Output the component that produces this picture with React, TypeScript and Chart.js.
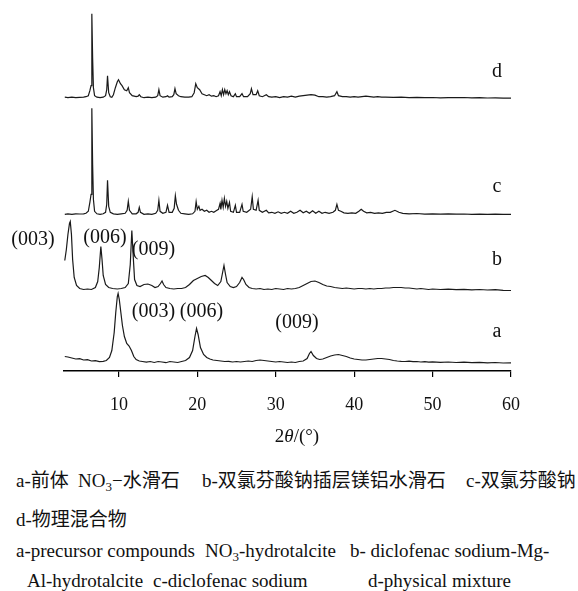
import React, { useEffect, useRef } from "react";
import { Chart, registerables } from "chart.js";

Chart.register(...registerables);

// ---- data -------------------------------------------------------------
const xTicks = [10, 20, 30, 40, 50, 60];
const traceNames = ["a", "b", "c", "d"];
const traceOffsets = [8.5, 81.5, 156.7, 273.3];

// [2θ (°), relative intensity]
const traceA: [number, number][] = [
  [3.1, 6], [3.5, 5.5], [4, 4.5], [4.5, 3.5], [5, 3.8], [5.5, 2.5], [6, 2.8], [6.5, 1.5], [7, 1.8], [7.5, 0.8],
  [8, 1.2], [8.4, 2], [8.8, 5], [9.1, 12], [9.4, 30], [9.6, 50], [9.8, 66], [9.9, 69], [10.05, 63], [10.25, 50],
  [10.45, 37], [10.7, 26], [11.0, 19], [11.3, 16.5], [11.6, 12], [11.9, 6], [12.2, 3], [12.6, 1.5], [13, 1], [13.5, 0.3],
  [14, 1], [14.5, 0], [15, 1], [15.5, 0.5], [16, -0.2], [16.5, 1], [17, 0.5], [17.5, 0], [18, 1], [18.5, 2],
  [19, 5], [19.4, 12], [19.7, 26], [19.9, 34], [20.1, 28], [20.4, 15], [20.8, 8], [21.2, 5], [21.6, 3.5], [22, 2.5],
  [22.5, 2], [23, 1.5], [23.5, 1], [24, 1.2], [24.5, 0.5], [25, 1], [25.5, 0.5], [26, 1], [26.5, 1.5], [27, 1],
  [27.5, 2], [28, 2.5], [28.5, 2], [29, 1.5], [29.5, 1], [30, 0.5], [30.5, 1], [31, 0.5], [31.5, 0], [32, 0.5],
  [32.5, 0], [33, 1], [33.5, 1.5], [34, 4], [34.3, 9], [34.5, 11], [34.8, 7], [35.2, 4], [35.6, 3], [36, 3.5],
  [36.5, 5], [37, 6.5], [37.5, 7.5], [38, 8], [38.5, 7], [39, 6], [39.5, 4.5], [40, 3.5], [40.5, 3], [41, 2.5],
  [41.5, 2.5], [42, 3], [42.5, 3.5], [43, 4], [43.5, 4], [44, 3.5], [44.5, 3], [45, 2], [45.5, 1.5], [46, 1.2],
  [46.5, 1], [47, 1.3], [47.5, 0.8], [48, 1], [48.5, 0.5], [49, 0.8], [49.5, 0.3], [50, 0.6], [51, 0.2], [52, 0.5],
  [53, 0], [54, 0.3], [55, -0.2], [56, 0.2], [57, -0.3], [58, 0], [59, -0.5], [60, -0.3],
];

const traceB: [number, number][] = [
  [3.1, 29], [3.3, 40], [3.5, 55], [3.7, 66], [3.8, 68], [3.95, 55], [4.1, 30], [4.3, 12], [4.6, 4], [5, 1],
  [5.5, 0], [6, 0.5], [6.5, 0], [7, 2], [7.3, 8], [7.5, 22], [7.7, 43], [7.85, 30], [8, 14], [8.3, 5],
  [8.7, 2], [9.2, 1], [9.8, 0.5], [10.3, 1], [10.8, 2], [11.2, 6], [11.45, 25], [11.65, 59], [11.85, 30], [12, 10],
  [12.3, 4], [12.7, 3], [13.2, 5], [13.7, 5.5], [14.2, 4], [14.6, 2], [15, 3], [15.3, 6], [15.5, 8.5], [15.7, 5],
  [16, 2], [16.5, 1], [17, 0.5], [17.5, 1], [18, 1], [18.5, 2], [19, 5], [19.5, 9], [20, 11], [20.5, 13],
  [21, 14], [21.4, 12], [21.8, 9], [22.2, 6], [22.6, 4], [23, 8], [23.2, 16], [23.4, 24], [23.6, 15], [23.8, 7],
  [24.2, 3], [24.6, 2], [25, 3], [25.4, 7], [25.7, 12], [25.9, 10], [26.2, 5], [26.6, 2], [27, 1], [27.5, 0.5],
  [28, 1], [28.5, 0], [29, 0.5], [29.5, 0], [30, 1], [30.5, 0.5], [31, 0], [31.5, 1], [32, 0.5], [32.5, 1],
  [33, 2], [33.5, 4], [34, 6], [34.5, 8], [35, 8.5], [35.5, 7], [36, 5], [36.5, 3.5], [37, 3], [37.5, 2],
  [38, 1.5], [38.5, 1], [39, 1.5], [39.5, 1], [40, 0.5], [40.5, 1], [41, 1], [41.5, 0.5], [42, 1], [42.5, 0.5],
  [43, 1], [43.5, 1], [44, 1.5], [44.5, 1.5], [45, 2], [45.5, 2], [46, 2], [46.5, 1.5], [47, 1.5], [47.5, 1],
  [48, 0.5], [48.5, 1], [49, 0.5], [49.5, 0], [50, 0.5], [51, 0], [52, 0.3], [53, -0.2], [54, 0.2], [55, -0.3],
  [56, 0], [57, -0.5], [58, -0.2], [59, -0.8], [60, -1],
];

const traceC: [number, number][] = [
  [3.1, 0], [3.5, 0.5], [4, 0], [4.5, 0.5], [5, 0.3], [5.5, 0.5], [5.8, 1], [6.1, 3], [6.3, 12], [6.45, 20],
  [6.55, 106], [6.65, 50], [6.75, 15], [6.9, 3], [7.2, 0.5], [7.6, 0], [8, 0.5], [8.3, 2], [8.45, 10], [8.55, 34],
  [8.7, 8], [8.9, 2], [9.3, 0.5], [9.8, 0], [10.3, 0.5], [10.8, 1], [11.05, 4], [11.2, 13], [11.35, 4], [11.7, 0.5],
  [12.2, 0.5], [12.45, 2], [12.6, 7], [12.75, 2], [13.2, 0], [13.7, 0.5], [14.2, 0], [14.7, 1], [14.95, 4], [15.1, 14],
  [15.25, 3], [15.6, 1], [16, 2], [16.2, 9], [16.4, 2], [16.8, 2], [17.05, 6], [17.2, 18.6], [17.35, 10], [17.6, 4],
  [17.9, 1], [18.4, 0.5], [18.9, 0], [19.4, 0.5], [19.7, 3], [19.85, 12.6], [20, 5], [20.2, 8], [20.35, 4], [20.6, 5],
  [20.9, 3], [21.2, 4], [21.5, 2], [21.8, 3], [22.1, 2], [22.4, 3.5], [22.7, 5], [22.9, 11], [23, 5], [23.15, 14],
  [23.3, 7], [23.45, 16], [23.6, 8], [23.75, 13], [23.9, 6], [24.1, 12], [24.25, 3], [24.6, 2], [24.85, 9], [25, 2],
  [25.4, 2], [25.7, 10], [25.85, 3], [26.3, 2], [26.8, 5], [27, 17.6], [27.15, 5], [27.5, 4], [27.75, 14], [27.9, 4],
  [28.3, 2], [28.8, 4], [29.1, 1.5], [29.5, 2], [29.9, 1], [30.3, 2.5], [30.7, 1], [31.1, 2], [31.5, 1], [31.9, 3],
  [32.3, 1], [32.7, 2], [33.1, 4], [33.5, 1.5], [33.9, 3], [34.3, 1], [34.7, 3.5], [35.1, 1], [35.5, 3], [35.9, 1],
  [36.3, 2], [36.8, 1], [37.3, 2], [37.6, 4], [37.8, 10], [38, 4], [38.3, 3], [38.7, 1.5], [39.2, 1], [39.7, 1.5],
  [40.2, 1], [40.6, 3], [40.9, 5], [41.2, 3], [41.6, 1.5], [42.1, 2], [42.6, 1], [43.1, 1.5], [43.6, 1], [44.1, 2],
  [44.6, 2], [45.2, 4], [45.7, 2], [46.2, 1], [47, 0.5], [48, 0.8], [49, 0.2], [50, 0.5], [51, 0.2], [52, 0.4],
  [53, 0.1], [54, 0.3], [55, 0], [56, 0.2], [57, 0], [58, 0.1], [59, 0], [60, 0],
];

const traceD: [number, number][] = [
  [3.1, 0.5], [3.5, 0], [4, 0.5], [4.5, 0], [5, 0.3], [5.5, 0.5], [5.8, 1], [6.1, 2], [6.3, 7], [6.45, 12],
  [6.55, 84], [6.65, 40], [6.75, 10], [6.9, 2], [7.2, 0.5], [7.6, 0], [8, 0.5], [8.3, 2], [8.45, 8], [8.55, 22],
  [8.7, 5], [8.9, 1], [9.1, 0.5], [9.3, 3], [9.55, 10], [9.8, 16], [9.95, 18], [10.2, 14], [10.4, 12], [10.7, 8],
  [11, 7], [11.2, 10], [11.35, 5], [11.7, 2], [12.2, 1], [12.45, 1.5], [12.6, 3], [12.8, 1], [13.2, 0], [13.7, 0.5],
  [14.2, 0], [14.7, 0.5], [14.95, 2], [15.1, 8], [15.25, 2], [15.6, 0.5], [16, 1], [16.2, 2], [16.4, 0.5], [16.8, 1],
  [17, 3], [17.15, 9], [17.3, 4], [17.6, 2], [17.9, 1], [18.4, 0.5], [18.9, 0.5], [19.3, 1], [19.6, 5], [19.8, 14],
  [20, 10], [20.3, 8], [20.6, 4], [20.9, 3], [21.2, 2], [21.5, 3], [21.8, 1.5], [22.1, 2], [22.4, 1], [22.7, 2],
  [22.9, 6], [23.05, 2], [23.2, 8], [23.35, 3], [23.5, 8], [23.65, 4], [23.8, 7], [23.95, 3], [24.1, 6], [24.3, 2],
  [24.6, 1], [24.85, 4], [25, 1], [25.4, 1], [25.7, 4], [25.9, 1], [26.4, 1], [26.75, 4], [26.9, 9], [27.1, 3],
  [27.5, 3], [27.7, 7], [27.9, 2], [28.3, 1], [28.8, 3], [29.1, 1], [29.5, 0.5], [30, 1], [30.5, 0], [31, 1],
  [31.5, 0.5], [32, 1.5], [32.5, 0.5], [33, 1.5], [33.5, 2], [34, 2.5], [34.5, 3], [35, 2.5], [35.5, 1], [36, 1],
  [36.5, 0.5], [37, 1], [37.5, 2], [37.8, 6], [38, 2], [38.5, 1], [39, 1], [39.5, 0.5], [40, 1], [40.5, 0.5],
  [41, 1], [41.5, 1.5], [42, 1], [42.5, 0.5], [43, 1], [43.5, 0.5], [44, 0.5], [45, 0.3], [46, 0.5], [47, 0],
  [48, 0.3], [49, 0], [50, 0.2], [51, -0.1], [52, 0.1], [53, 0], [54, 0.2], [55, -0.2], [56, 0], [57, -0.3],
  [58, -0.1], [59, -0.4], [60, -0.5],
];

const traces = [traceA, traceB, traceC, traceD];

// peak (hkl) annotations: text, 2θ, level (plot units)
const hklTexts = ["(003)", "(006)", "(009)", "(003)", "(006)", "(009)"];
const hklTheta = [-0.95, 8.23, 14.41, 14.41, 20.53, 32.71];
const hklLevel = [126, 127.7, 116, 54.3, 54.3, 42.7];
const nameTheta = 58.2;
const nameLevel = [34.3, 106, 179.3, 293.7];

const SERIF = '"Liberation Serif", "DejaVu Serif", serif';
const CAPTION_FONT = '"Liberation Serif", "DejaVu Serif", "Noto Sans CJK SC", serif';

const textPlugin = {
  id: "xrdText",
  afterDraw(chart: any) {
    const { ctx } = chart;
    const x = chart.scales.x;
    const y = chart.scales.y;
    ctx.save();
    ctx.fillStyle = "#111";
    ctx.font = `20px ${SERIF}`;
    ctx.textAlign = "center";
    ctx.textBaseline = "alphabetic";
    hklTexts.forEach((t, i) => {
      ctx.fillText(t, x.getPixelForValue(hklTheta[i]), y.getPixelForValue(hklLevel[i]));
    });
    traceNames.forEach((n, i) => {
      ctx.fillText(n, x.getPixelForValue(nameTheta), y.getPixelForValue(nameLevel[i]));
    });
    ctx.restore();
  },
};

function XrdChart() {
  const ref = useRef<HTMLCanvasElement | null>(null);
  useEffect(() => {
    if (!ref.current) return;
    const datasets = traces.map((tr, i) => ({
      label: traceNames[i],
      data: tr.map(([t, v]) => ({ x: t, y: v + traceOffsets[i] })),
      borderColor: "#1a1a1a",
      borderWidth: 1.2,
      pointRadius: 0,
      tension: 0,
      fill: false,
    }));
    const chart = new Chart(ref.current, {
      type: "line",
      data: { datasets },
      options: {
        animation: false,
        responsive: false,
        devicePixelRatio: 1,
        layout: { padding: { left: 64, right: 67, top: 5, bottom: 0 } },
        plugins: { legend: { display: false }, tooltip: { enabled: false } },
        scales: {
          x: {
            type: "linear",
            min: 3,
            max: 60,
            afterBuildTicks: (s: any) => {
              s.ticks = xTicks.map((v) => ({ value: v }));
            },
            afterFit: (s: any) => {
              s.height = 79;
            },
            grid: {
              drawOnChartArea: false,
              drawTicks: true,
              tickLength: 6,
              color: "#000",
              lineWidth: 1.2,
            },
            border: { color: "#000", width: 1.4 },
            ticks: {
              color: "#111",
              font: { family: SERIF, size: 18 },
              padding: 17,
              maxRotation: 0,
              autoSkip: false,
            },
          },
          y: { display: false, min: 0, max: 366 },
        },
      } as any,
      plugins: [textPlugin],
    });
    return () => chart.destroy();
  }, []);
  return <canvas ref={ref} width={578} height={450} style={{ position: "absolute", left: 0, top: 0, width: 578, height: 450 }} />;
}

const seg = (left: number, top: number, content: React.ReactNode, key: string) => (
  <div
    key={key}
    style={{
      position: "absolute",
      left,
      top,
      fontFamily: CAPTION_FONT,
      fontSize: 19,
      lineHeight: "19px",
      whiteSpace: "pre",
      color: "#111",
    }}
  >
    {content}
  </div>
);

const sub3 = <span style={{ fontSize: 13, position: "relative", top: 4 }}>3</span>;

export default function App() {
  return (
    <div style={{ position: "absolute", left: 0, top: 0, width: 578, height: 591, background: "#fff", overflow: "hidden" }}>
      <XrdChart />
      <div
        style={{
          position: "absolute",
          left: 197,
          top: 426,
          width: 200,
          textAlign: "center",
          fontFamily: SERIF,
          fontSize: 19,
          lineHeight: "19px",
          color: "#111",
        }}
      >
        2<i>θ</i>/(°)
      </div>
      {seg(16, 471, "a-前体", "l1a")}
      {seg(78, 471, <>NO{sub3}−水滑石</>, "l1b")}
      {seg(202, 471, "b-双氯芬酸钠插层镁铝水滑石", "l1c")}
      {seg(466, 471, "c-双氯芬酸钠", "l1d")}
      {seg(16, 510, "d-物理混合物", "l2a")}
      {seg(16, 541, "a-precursor compounds", "l3a")}
      {seg(205, 541, <>NO{sub3}-hydrotalcite</>, "l3b")}
      {seg(350, 541, "b- diclofenac sodium-Mg-", "l3c")}
      {seg(27, 571, "Al-hydrotalcite", "l4a")}
      {seg(153, 571, "c-diclofenac sodium", "l4b")}
      {seg(368, 571, "d-physical mixture", "l4c")}
    </div>
  );
}
